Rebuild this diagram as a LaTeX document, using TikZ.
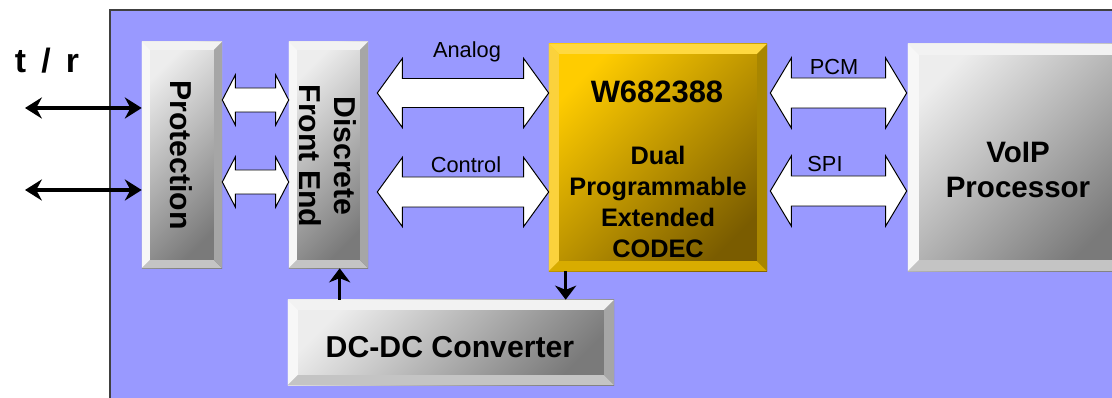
\documentclass[tikz,border=0pt]{standalone}
\usepackage{fontspec}
\setmainfont{Liberation Sans}
\usetikzlibrary{calc,arrows.meta}
\definecolor{bgblue}{HTML}{9999FF}
\definecolor{rimgray}{HTML}{404040}
\definecolor{grayL}{HTML}{EDEDED}
\definecolor{grayD}{HTML}{7A7A7A}
\definecolor{grayT}{HTML}{F2F2F2}
\definecolor{grayLf}{HTML}{F7F7F7}
\definecolor{grayB}{HTML}{C4C4C4}
\definecolor{grayR}{HTML}{A6A6A6}
\definecolor{goldL}{HTML}{FFCC00}
\definecolor{goldD}{HTML}{7A5C00}
\definecolor{goldT}{HTML}{FFD940}
\definecolor{goldLf}{HTML}{FBD23C}
\definecolor{goldB}{HTML}{D8AC00}
\definecolor{goldR}{HTML}{A88600}
\tikzset{
  bevel/.style n args={5}{path picture={
    \path (path picture bounding box.north west) coordinate (bnw)
          (path picture bounding box.north east) coordinate (bne)
          (path picture bounding box.south east) coordinate (bse)
          (path picture bounding box.south west) coordinate (bsw);
    \fill[#2] (bnw) -- (bne) -- ([shift={(-#1,-#1)}]bne) -- ([shift={(#1,-#1)}]bnw) -- cycle;
    \fill[#3] (bnw) -- (bsw) -- ([shift={(#1,#1)}]bsw) -- ([shift={(#1,-#1)}]bnw) -- cycle;
    \fill[#4] (bsw) -- (bse) -- ([shift={(-#1,#1)}]bse) -- ([shift={(#1,#1)}]bsw) -- cycle;
    \fill[#5] (bne) -- (bse) -- ([shift={(-#1,#1)}]bse) -- ([shift={(-#1,-#1)}]bne) -- cycle;
  }},
  graybox/.style={rectangle, inner sep=0pt, top color=grayL, bottom color=grayD,
    shading angle=45, bevel={#1}{grayT}{grayLf}{grayB}{grayR}},
  graybox/.default=0.2cm,
  goldbox/.style={rectangle, inner sep=0pt, top color=goldL, bottom color=goldD,
    shading angle=45, bevel={0.25cm}{goldT}{goldLf}{goldB}{goldR}},
  boxtxt/.style={align=center, inner sep=0pt, font=\fontsize{21.5}{25}\selectfont\bfseries},
  codectxt/.style={align=center, inner sep=0pt, font=\fontsize{18}{22}\selectfont\bfseries},
  lbl/.style={anchor=base, inner sep=0pt, font=\fontsize{15.5}{18}\selectfont},
  blockarrow/.style={draw=black, fill=white, line width=0.7pt, line join=miter},
  wire/.style={line width=2.4pt, {Stealth[length=12pt,width=15pt,inset=4pt]}-{Stealth[length=12pt,width=15pt,inset=4pt]}},
  power/.style={line width=2.4pt, -{Stealth[length=10pt,width=15pt,inset=3pt]}}
}
% double block arrow: tips #1 and #2, head half height #3, shaft half height #4, head length #5
\newcommand\widearrow[5]{%
  \draw[blockarrow] (#1) -- ++(#5,-#3) -- ++(0,{#3-#4}) -- ($(#2)+(-#5,-#4)$) -- ++(0,{#4-#3})
    -- (#2) -- ++(-#5,#3) -- ++(0,{#4-#3}) -- ($(#1)+(#5,#4)$) -- ++(0,{#3-#4}) -- cycle;}
\begin{document}
\begin{tikzpicture}[x=0.025cm,y=-0.025cm]
\useasboundingbox (0,0) rectangle (1112,398);
\fill[bgblue] (110,10) rectangle (1130,410);
\draw[line width=1.2pt,color=rimgray] (110,410) -- (110,10) -- (1130,10);
\node[font=\fontsize{24}{28}\selectfont\bfseries] (trlbl) at (47,61) {t\hspace{0.45em}/\hspace{0.45em}r};
% boxes
\node[graybox, minimum width=2cm, minimum height=5.65cm] (prot) at (182,155) {};
\node[graybox, minimum width=1.975cm, minimum height=5.65cm] (dfe) at (328.5,155) {};
\node[goldbox, minimum width=5.45cm, minimum height=5.675cm] (codec) at (658,157.5) {};
\node[graybox=0.275cm, minimum width=5.5cm, minimum height=5.675cm] (voip) at (1018,157.5) {};
\node[graybox=0.25cm, minimum width=8.15cm, minimum height=2.125cm] (dcdc) at (451,342.5) {};
% box texts
\node[boxtxt, rotate=-90] (prottxt) at (181,155) {Protection};
\node[boxtxt, rotate=-90] (dfetxt) at (328,156) {Discrete\\Front End};
\node[codectxt, font=\fontsize{22}{26}\selectfont\bfseries, anchor=base] (codecname) at (657,103) {W682388};
\node[codectxt] (codectxt) at (658,202) {Dual\\Programmable\\Extended\\CODEC};
\node[boxtxt, font=\fontsize{21}{25}\selectfont\bfseries] (voiptxt) at (1018,170) {VoIP\\Processor};
\node[boxtxt] (dcdctxt) at (450,347.5) {DC-DC Converter};
% line side
\coordinate (tipEnd) at (25,108);
\coordinate (ringEnd) at (25,190);
\draw[wire] (tipEnd) -- (tipEnd -| prot.west);
\draw[wire] (ringEnd) -- (ringEnd -| prot.west);
% buses
\coordinate (pf1) at ($(prot.east)+(0,-55)$);
\coordinate (pf2) at ($(dfe.west)+(0,-55)$);
\coordinate (pf3) at ($(prot.east)+(0,27)$);
\coordinate (pf4) at ($(dfe.west)+(0,27)$);
\widearrow{pf1}{pf2}{25}{12}{13}
\widearrow{pf3}{pf4}{25}{12}{13}
\coordinate (analogL) at ($(dfe.east)+(9,-62)$);
\coordinate (analogR) at ($(codec.west)+(0,-64.5)$);
\coordinate (controlL) at ($(dfe.east)+(9,37)$);
\coordinate (controlR) at ($(codec.west)+(0,34.5)$);
\widearrow{analogL}{analogR}{34.5}{14.5}{25}
\widearrow{controlL}{controlR}{34.5}{15}{25}
\coordinate (pcmL) at ($(codec.east)+(3,-64.5)$);
\coordinate (pcmR) at ($(voip.west)+(-1,-64.5)$);
\coordinate (spiL) at ($(codec.east)+(3,33.5)$);
\coordinate (spiR) at ($(voip.west)+(-1,33.5)$);
\widearrow{pcmL}{pcmR}{35}{15}{21}
\widearrow{spiL}{spiR}{35}{15}{21}
\node[lbl] (analoglbl) at (467,58) {Analog};
\node[lbl] (controllbl) at (466,173) {Control};
\node[lbl] (pcmlbl) at (834,75) {PCM};
\node[lbl] (spilbl) at (825,172) {SPI};
% supply
\coordinate (pwrUp) at ($(dcdc.north west)+(52,0)$);
\coordinate (pwrDn) at ($(codec.south west)+(17,0)$);
\draw[power] (pwrUp) -- (pwrUp |- dfe.south);
\draw[power] (pwrDn) -- (pwrDn |- dcdc.north);
\end{tikzpicture}
\end{document}
